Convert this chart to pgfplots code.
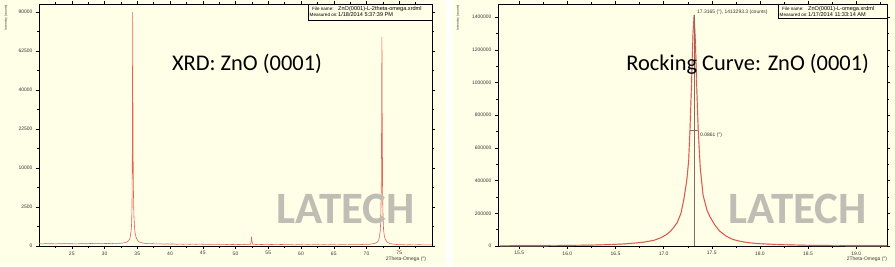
\documentclass[border=0pt]{standalone}
\usepackage{fontspec}
\setmainfont{Liberation Sans}
\newfontfamily\carl{Carlito}
\usepackage{pgfplots}
\pgfplotsset{compat=1.18}
\usepackage{pgfplotstable}
\definecolor{cream}{RGB}{255,254,230}
\definecolor{xrdred}{RGB}{226,100,90}
\definecolor{rcpink}{RGB}{242,175,165}
\definecolor{rcred}{RGB}{205,45,40}
\definecolor{mkline}{RGB}{140,105,90}
\definecolor{wm}{RGB}{192,190,180}
\definecolor{tk}{RGB}{55,55,55}

\pgfplotstableread{
x y
20.0 9
20.5 7
21.0 10
21.5 8
22.0 9
22.5 7
23.0 9
23.5 8
24.0 10
24.5 8
25.0 9
25.5 7
26.0 8
26.5 10
27.0 8
27.5 9
28.0 11
28.5 9
29.0 10
29.5 8
30.0 10
30.5 11
31.0 9
31.5 12
32.0 11
32.5 13
33.0 16
33.3 22
33.5 30
33.7 50
33.8 70
33.9 110
34.0 260
34.1 500
34.15 1000
34.2 2800
34.22 6500
34.24 12000
34.26 22000
34.28 50000
34.30 89800
34.32 62000
34.34 36000
34.36 22000
34.38 12000
34.40 6500
34.45 2800
34.5 1400
34.6 480
34.7 240
34.8 140
34.9 90
35.1 45
35.3 28
35.6 18
36.0 13
36.5 10
37.0 9
37.5 8
38.0 7
38.5 8
39.0 6
39.5 7
40.0 6
40.5 7
41.0 5
41.5 6
42.0 5
42.5 6
43.0 5
43.5 6
44.0 5
44.5 6
45.0 5
45.5 4
46.0 5
46.5 4
47.0 4
47.5 5
48.0 4
48.5 4
49.0 3
49.5 4
50.0 3
50.5 4
51.0 3
51.5 4
52.0 4
52.3 5
52.4 40
52.45 140
52.5 50
52.6 6
53.0 4
53.5 3
54.0 4
54.5 3
55.0 3
55.5 4
56.0 3
56.5 3
57.0 4
57.5 3
58.0 3
58.5 3
59.0 2
59.5 3
60.0 3
60.5 2
61.0 3
61.5 2
62.0 3
62.5 3
63.0 2
63.5 3
64.0 2
64.5 3
65.0 3
65.5 2
66.0 3
66.5 3
67.0 2
67.5 3
68.0 3
68.5 3
69.0 3
69.5 4
70.0 4
70.5 5
71.0 8
71.3 12
71.5 18
71.7 30
71.8 45
71.9 80
72.0 180
72.1 380
72.15 800
72.2 2200
72.25 5000
72.28 12000
72.31 30000
72.33 50000
72.35 71800
72.37 50000
72.39 30000
72.41 26000
72.43 15000
72.45 5500
72.5 2000
72.55 1000
72.6 450
72.7 200
72.8 110
72.9 65
73.1 32
73.3 18
73.6 10
74.0 6
74.5 4
75.0 3
75.5 3
76.0 2
76.5 3
77.0 2
77.5 2
78.0 3
78.5 2
79.0 2
79.5 2
80.0 2
}\xrddata

\pgfplotstableread{
x y
15.30 1500
15.50 1900
15.75 2500
16.00 3800
16.25 5600
16.45 9000
16.60 13000
16.70 18000
16.80 24000
16.90 35000
16.97 50000
17.03 70000
17.07 90000
17.10 110000
17.14 142000
17.18 200000
17.21 285000
17.24 400000
17.26 520000
17.2735 706646
17.29 1000000
17.305 1300000
17.3165 1413293
17.33 1250000
17.345 950000
17.3595 706646
17.38 480000
17.41 310000
17.45 220000
17.48 180000
17.53 130000
17.58 92000
17.65 60000
17.72 40000
17.80 28000
17.90 19000
18.00 14000
18.20 8500
18.50 4500
18.80 3000
19.10 2200
19.32 1800
}\rcdata

\pgfplotsset{
  myax/.style={
    scale only axis, anchor=south west,
    axis background/.style={fill=cream},
    axis line style={black, line width=0.6bp},
    tick align=outside,
    major tick length=3bp, minor tick length=2bp,
    tick style={black, line width=0.4bp},
    tick label style={font=\fontsize{5}{6}\selectfont, text=tk},
    xticklabel style={yshift=1bp},
    scaled x ticks=false, scaled y ticks=false,
    clip=true,
  }
}

\begin{document}
\begin{tikzpicture}[x=1bp,y=1bp]
\useasboundingbox (0,0) rectangle (895,266);
\fill[cream] (0,0) rectangle (895,266);
\fill[white] (446,0) rectangle (452,266);

% ---------- left: XRD ----------
\begin{axis}[myax, at={(39bp,20bp)}, width=393bp, height=242bp,
  xmin=20, xmax=80, ymin=0, ymax=310,
  xtick={25,30,35,40,45,50,55,60,65,70,75},
  xticklabels={25,30,35,40,45,50,55,60,65,70,75},
  minor xtick={22.5,27.5,32.5,37.5,42.5,47.5,52.5,57.5,62.5,67.5,72.5,77.5},
  ytick={0,50,100,150,200,250,300},
  yticklabels={0,2500,10000,22500,40000,62500,90000},
  minor ytick={25,75,125,175,225,275},
]
\addplot[xrdred, line width=0.6bp] table[x index=0, y expr={sqrt(\thisrowno{1})}] {\xrddata};
\end{axis}

% ---------- right: rocking curve ----------
\begin{axis}[myax, at={(498bp,20bp)}, width=389bp, height=242bp,
  xmin=15.28, xmax=19.32, ymin=0, ymax=1480000,
  xtick={15.5,16,16.5,17,17.5,18,18.5,19},
  xticklabels={15.5,16.0,16.5,17.0,17.5,18.0,18.5,19.0},
  minor xtick={15.75,16.25,16.75,17.25,17.75,18.25,18.75,19.25},
  ytick={0,200000,400000,600000,800000,1000000,1200000,1400000},
  yticklabels={0,200000,400000,600000,800000,1000000,1200000,1400000},
  minor ytick={100000,300000,500000,700000,900000,1100000,1300000},
]
\addplot[rcpink, line width=1.4bp] table[x index=0, y index=1] {\rcdata};
\addplot[rcred, line width=0.45bp] table[x index=0, y index=1] {\rcdata};
\addplot[mkline, line width=0.5bp] coordinates {(17.3165,0) (17.3165,1413293)};
\addplot[mkline, line width=0.5bp] coordinates {(17.2735,706646) (17.3595,706646)};
\end{axis}

% info boxes
\draw[black, line width=0.5bp, fill=cream] (308,262) rectangle (432,246);
\node[anchor=base west, inner sep=0, font=\fontsize{4.6}{5}\selectfont] at (312,256) {File name:};
\node[anchor=base west, inner sep=0, font=\fontsize{5.6}{6}\selectfont] at (338,256) {ZnO(0001)-L-2theta-omega.xrdml};
\node[anchor=base west, inner sep=0, font=\fontsize{4.6}{5}\selectfont] at (309.5,249.5) {Measured on:};
\node[anchor=base west, inner sep=0, font=\fontsize{5.6}{6}\selectfont] at (338,249.5) {1/18/2014 5:37:39 PM};

\draw[black, line width=0.5bp, fill=cream] (778,262) rectangle (887,248);
\node[anchor=base west, inner sep=0, font=\fontsize{4.6}{5}\selectfont] at (782,256) {File name:};
\node[anchor=base west, inner sep=0, font=\fontsize{5.6}{6}\selectfont] at (808,256) {ZnO(0001)-L-omega.xrdml};
\node[anchor=base west, inner sep=0, font=\fontsize{4.6}{5}\selectfont] at (779.5,250) {Measured on:};
\node[anchor=base west, inner sep=0, font=\fontsize{5.6}{6}\selectfont] at (808,250) {1/17/2014 11:33:14 AM};

% peak annotations
\node[anchor=west, inner sep=0, font=\fontsize{5}{6}\selectfont, text=tk] at (697,254) {17.3165 (°), 1413293.3 (counts)};
\node[anchor=west, inner sep=0, font=\fontsize{5}{6}\selectfont, text=tk] at (700,131) {0.0861 (°)};

% axis titles
\node[rotate=90, inner sep=0, font=\fontsize{3.3}{4}\selectfont, text=tk] at (6,248.5) {Intensity (counts)};
\node[rotate=90, inner sep=0, font=\fontsize{3.3}{4}\selectfont, text=tk] at (458,248.5) {Intensity (counts)};
\node[inner sep=0, font=\fontsize{5}{6}\selectfont, text=tk] at (406,7) {2Theta-Omega (°)};
\node[inner sep=0, font=\fontsize{5}{6}\selectfont, text=tk] at (867,7) {2Theta-Omega (°)};

% overlay titles
\node[anchor=base, inner sep=0, font=\carl\fontsize{22.5}{26}\selectfont] at (247,196) {XRD: ZnO (0001)};
\node[anchor=base, inner sep=0, font=\carl\fontsize{22.5}{26}\selectfont] at (747.7,196) {Rocking Curve: ZnO (0001)};
\node[anchor=base, inner sep=0, font=\carl\bfseries\fontsize{45}{50}\selectfont, text=wm] at (345.5,42.3) {LATECH};
\node[anchor=base, inner sep=0, font=\carl\bfseries\fontsize{45}{50}\selectfont, text=wm] at (797.5,42.3) {LATECH};
\end{tikzpicture}
\end{document}
